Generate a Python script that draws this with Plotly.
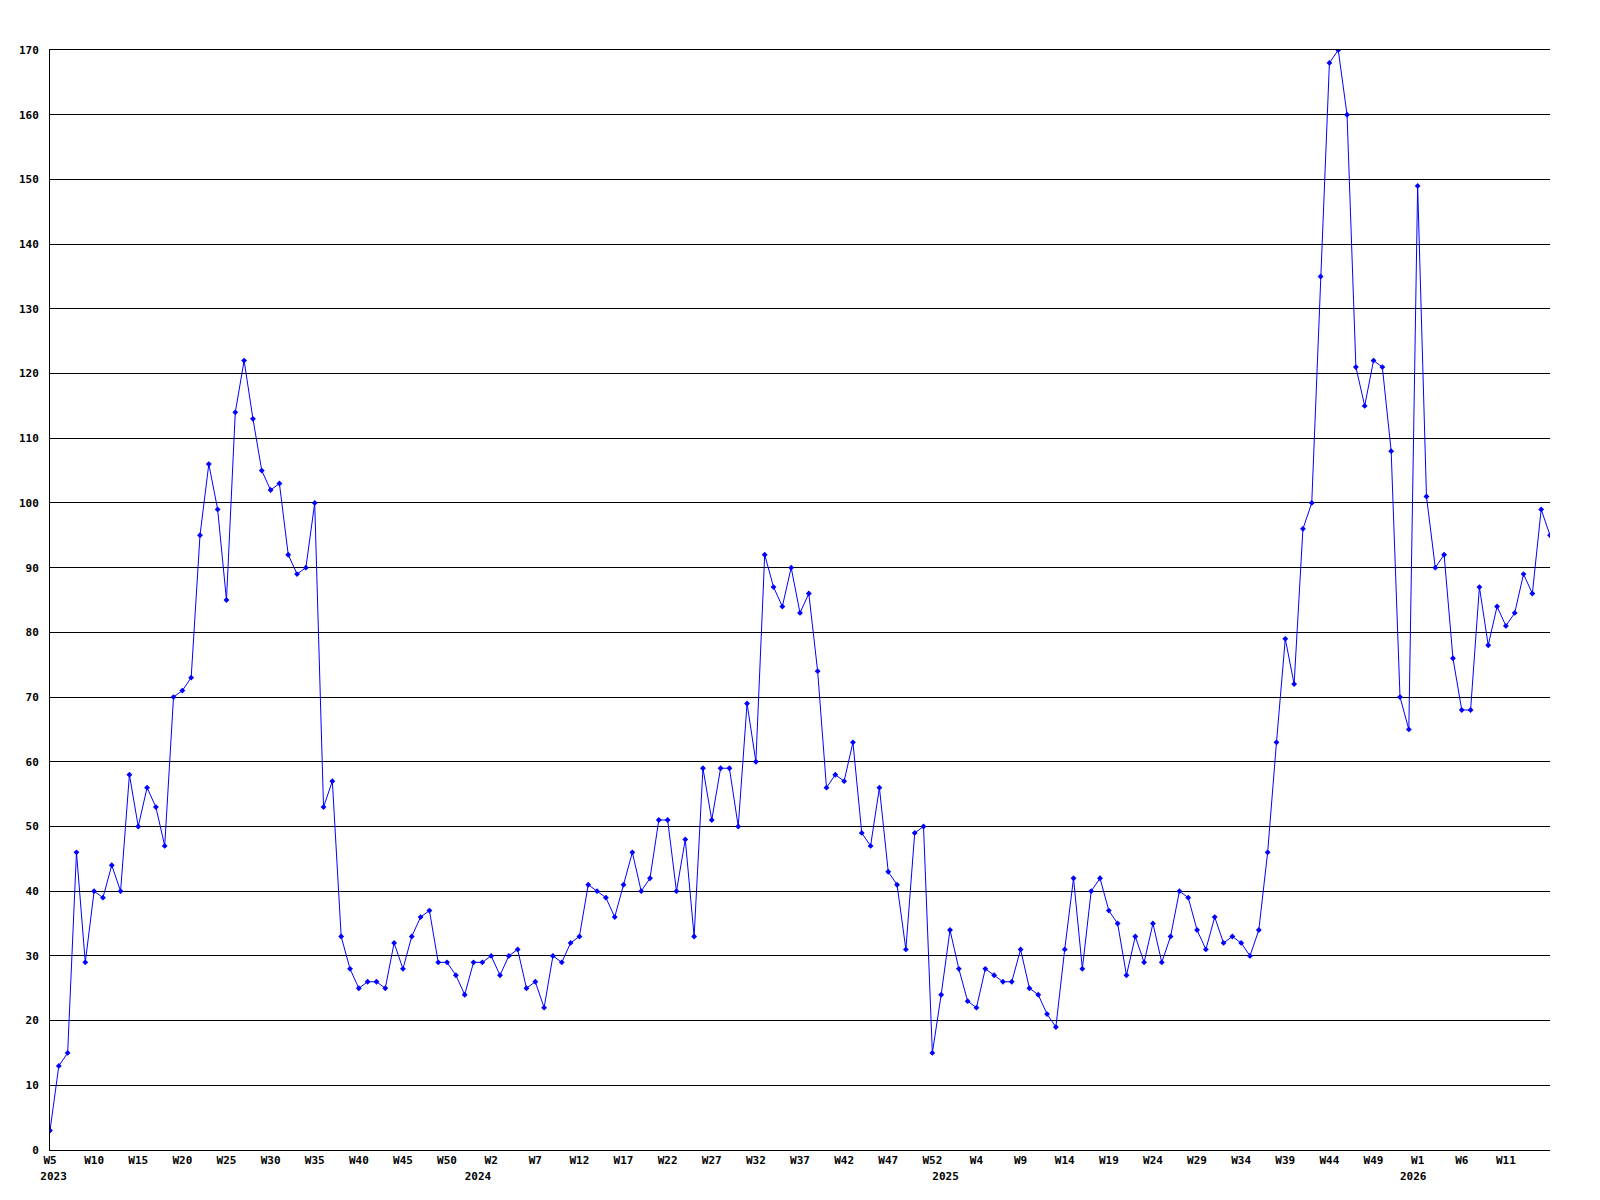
import plotly.graph_objects as go

# Weekly values, 2023 W5 -> 2026 W16 (one value per week slot)
values = [
    3, 13, 15, 46, 29, 40, 39, 44, 40, 58, 50, 56, 53, 47, 70, 71, 73, 95, 106, 99, 85,
    114, 122, 113, 105, 102, 103, 92, 89, 90, 100, 53, 57, 33, 28, 25, 26, 26, 25, 32,
    28, 33, 36, 37, 29, 29, 27, 24, 29, 29, 30, 27, 30, 31, 25, 26, 22, 30, 29, 32, 33,
    41, 40, 39, 36, 41, 46, 40, 42,
    51, 51, 40, 48, 33,
    59, 51, 59, 59, 50, 69, 60, 92, 87, 84, 90, 83, 86, 74, 56, 58, 57, 63, 49, 47, 56,
    43, 41, 31, 49, 50, 15, 24, 34, 28, 23, 22, 28, 27, 26, 26, 31, 25, 24, 21, 19, 31, 42,
    28, 40, 42, 37, 35, 27, 33, 29, 35, 29, 33, 40, 39, 34, 31, 36, 32, 33, 32, 30, 34, 46,
    63, 79, 72, 96, 100, 135, 168, 170, 160, 121, 115,
    122, 121, 108, 70, 65, 149, 101, 90, 92, 76, 68, 68, 87, 78, 84, 81, 83, 89, 86, 99, 95,
]

# Week tick labels, one every 5 week slots
week_labels = [
    "W5", "W10", "W15", "W20", "W25", "W30", "W35", "W40", "W45", "W50",
    "W2", "W7", "W12", "W17", "W22", "W27", "W32", "W37", "W42", "W47", "W52",
    "W4", "W9", "W14", "W19", "W24", "W29", "W34", "W39", "W44", "W49",
    "W1", "W6", "W11",
]
# Year labels and the slot positions where they sit (year boundaries)
year_labels = ["2023", "2024", "2025", "2026"]
year_pos = [0.4, 48.5, 101.5, 154.5]
y_ticks = list(range(0, 171, 10))

x = list(range(len(values)))
tick_pos = list(range(0, 5 * len(week_labels), 5))
x_range = [0, len(values) - 1]

fig = go.Figure()
fig.add_trace(go.Scatter(
    x=x, y=values, mode="lines+markers",
    line=dict(color="#0000FF", width=1),
    marker=dict(symbol="diamond", size=4.5, color="#0000FF"),
    hoverinfo="x+y", showlegend=False,
))
# invisible trace to carry the year axis
fig.add_trace(go.Scatter(x=[], y=[], xaxis="x2", showlegend=False, hoverinfo="skip"))

tick_font = dict(family="DejaVu Sans Mono", size=11, color="black", weight="bold")

fig.update_layout(
    width=1600, height=1200,
    margin=dict(l=42, r=58, t=42, b=58),
    paper_bgcolor="white", plot_bgcolor="white",
    xaxis=dict(
        range=x_range,
        tickmode="array", tickvals=tick_pos, ticktext=week_labels,
        showgrid=False, zeroline=False,
        showline=True, linecolor="black", linewidth=1, mirror=True,
        ticks="", tickfont=tick_font, tickangle=0,
    ),
    xaxis2=dict(
        range=x_range, overlaying="x", side="bottom", anchor="y",
        tickmode="array", tickvals=year_pos, ticktext=year_labels,
        showgrid=False, zeroline=False, showline=False,
        ticks="", tickfont=tick_font, tickangle=0, ticklabelstandoff=18,
    ),
    yaxis=dict(
        range=[0, 170],
        tickmode="array", tickvals=y_ticks,
        showgrid=True, gridcolor="black", gridwidth=1,
        zeroline=False,
        showline=True, linecolor="black", linewidth=1,
        ticks="", tickfont=tick_font, ticklabelstandoff=8,
    ),
)

fig.write_html("out.html")
